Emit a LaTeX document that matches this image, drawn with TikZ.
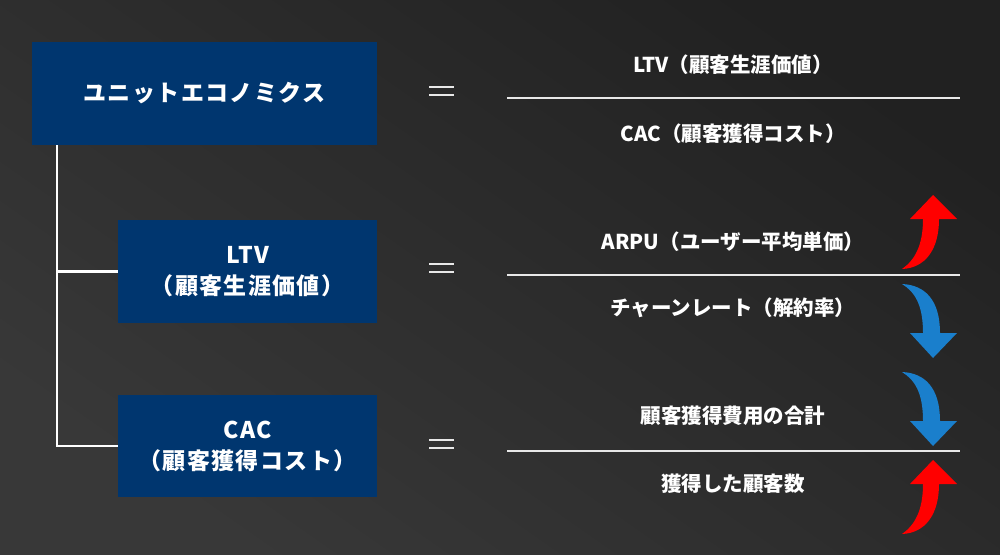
\documentclass[tikz,border=0pt]{standalone}
\usepackage{fontspec}
\setmainfont{Noto Sans CJK JP}
\newfontfamily\jpsp{Noto Sans CJK JP}[LetterSpace=6]
\definecolor{bgA}{HTML}{212121}
\definecolor{bgB}{HTML}{383838}
\definecolor{navy}{HTML}{00366F}
\definecolor{rule}{HTML}{E8E8E8}
\definecolor{upred}{HTML}{FF0000}
\definecolor{downblue}{HTML}{1A7FCC}
\tikzset{
  box/.style={fill=navy, draw=none, inner sep=0pt, text=white, align=center,
    font=\jpsp\bfseries\fontsize{23}{31}\selectfont},
  rtext/.style={text=white, inner sep=0pt, font=\bfseries\fontsize{20.5}{24}\selectfont},
  conn/.style={draw=white, line width=2.5pt},
  fracline/.style={draw=rule, line width=2pt},
  eqbar/.style={draw=rule, line width=2.4pt},
  redup/.pic={
    \fill[upred] (-31,74) .. controls (-18,65) and (-10,50) .. (-10,24)
      -- (-23,24) -- (0,0) -- (24,24) -- (6,24)
      .. controls (6,55) and (-8,73) .. cycle;
  },
  bluedown/.pic={
    \fill[downblue] (-31,-74) .. controls (-8,-73) and (7,-58) .. (7,-25)
      -- (24,-25) -- (0,0) -- (-23,-25) -- (-10,-25)
      .. controls (-10,-53) and (-18,-66) .. cycle;
  }
}
\begin{document}
\begin{tikzpicture}[x=1pt,y=-1pt]
\useasboundingbox (0,0) rectangle (1000,554);
\shade[top color=bgA, bottom color=bgB, shading angle=-35] (0,0) rectangle (1000,554);

% boxes
\node[box, minimum width=345pt, minimum height=103pt] (b1) at (204.5,93.5) {ユニットエコノミクス};
\node[box, minimum width=259pt, minimum height=103pt] (b2) at (247.5,271.5) {LTV\\（顧客生涯価値）};
\node[box, minimum width=259pt, minimum height=102pt] (b3) at (247.5,446) {CAC\\（顧客獲得コスト）};

% connectors
\coordinate (trunk) at (57,145);
\draw[conn] (trunk) |- (b2.west);
\draw[conn] (trunk) |- (b3.west);

% equals signs
\foreach \y in {91,268,444}{
  \draw[eqbar] (429,\y-4) -- (454,\y-4);
  \draw[eqbar] (429,\y+4) -- (454,\y+4);
}

% fraction lines
\draw[fracline] (507,98) -- (960,98);
\draw[fracline] (507,275) -- (960,275);
\draw[fracline] (507,451) -- (960,451);

% fraction texts
\node[rtext] (n1) at (733,65) {LTV（顧客生涯価値）};
\node[rtext] (d1) at (733,134) {CAC（顧客獲得コスト）};
\node[rtext] (n2) at (733,242) {ARPU（ユーザー平均単価）};
\node[rtext] (d2) at (733,308) {チャーンレート（解約率）};
\node[rtext] (n3) at (733,416) {顧客獲得費用の合計};
\node[rtext] (d3) at (733,484) {獲得した顧客数};

% arrows
\pic at (933,195) {redup};
\pic at (933,358) {bluedown};
\pic at (933,446) {bluedown};
\pic at (933,460) {redup};
\end{tikzpicture}
\end{document}
